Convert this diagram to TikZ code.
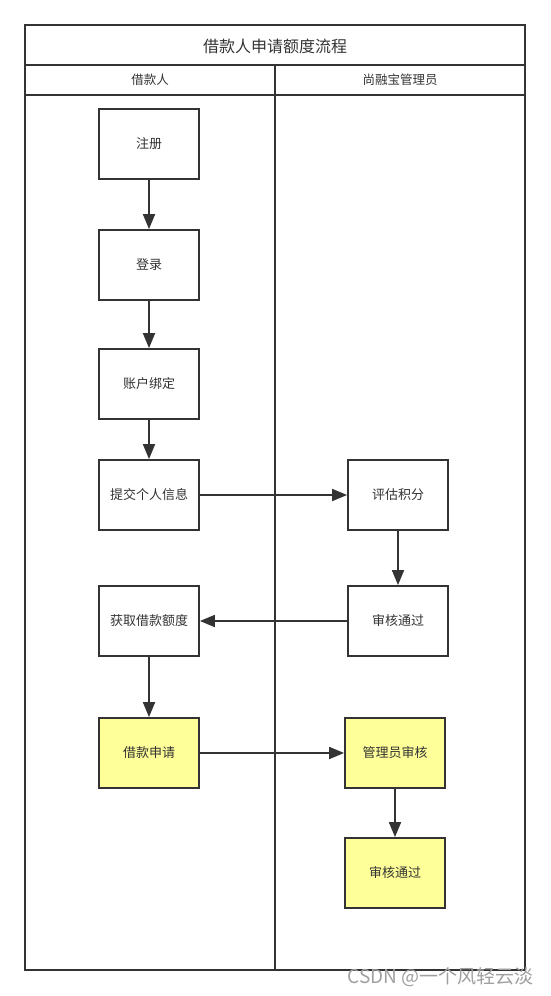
\documentclass[tikz,border=0pt]{standalone}
\usepackage{fontspec}
\setmainfont{Noto Sans CJK SC}
\usetikzlibrary{arrows.meta}
\definecolor{ln}{HTML}{333333}
\definecolor{yel}{HTML}{FFFF99}
\begin{document}
\begin{tikzpicture}[x=1pt,y=-1pt,
  box/.style={draw=ln,line width=1.8pt,minimum width=100pt,minimum height=70pt,inner sep=0pt,font=\fontsize{13}{15}\selectfont,text=ln},
  ybox/.style={box,fill=yel},
  conn/.style={draw=ln,line width=1.8pt,-{Triangle[length=15pt,width=12pt]}},
  frame/.style={draw=ln,line width=1.8pt}]
\useasboundingbox (0,0) rectangle (550,996);
% frame
\draw[frame] (25,25) rectangle (525,970);
\draw[frame] (25,65) -- (525,65);
\draw[frame] (25,95) -- (525,95);
\draw[frame] (275,65) -- (275,970);
\node[text=ln,font=\fontsize{16}{18}\selectfont] (title) at (275,46) {借款人申请额度流程};
\node[text=ln,font=\fontsize{12.5}{14}\selectfont] (laneA) at (150,80) {借款人};
\node[text=ln,font=\fontsize{12.5}{14}\selectfont] (laneB) at (400,80) {尚融宝管理员};
% left lane
\node[box] (reg) at (149,144) {注册};
\node[box] (login) at (149,265) {登录};
\node[box] (bind) at (149,384) {账户绑定};
\node[box] (submit) at (149,495) {提交个人信息};
\node[box] (quota) at (149,621) {获取借款额度};
\node[ybox] (apply) at (149,753) {借款申请};
% right lane
\node[box] (score) at (398,495) {评估积分};
\node[box] (pass1) at (398,621) {审核通过};
\node[ybox] (audit) at (395,753) {管理员审核};
\node[ybox] (pass2) at (395,873) {审核通过};
% connectors
\draw[conn] (reg) -- (login);
\draw[conn] (login) -- (bind);
\draw[conn] (bind) -- (submit);
\draw[conn] (submit) -- (score);
\draw[conn] (score) -- (pass1);
\draw[conn] (pass1) -- (quota);
\draw[conn] (quota) -- (apply);
\draw[conn] (apply) -- (audit);
\draw[conn] (audit) -- (pass2);
% watermark
\node[text=gray!75,font=\fontsize{19}{21}\selectfont,anchor=east] (wm) at (537,977) {CSDN @一个风轻云淡};
\end{tikzpicture}
\end{document}
